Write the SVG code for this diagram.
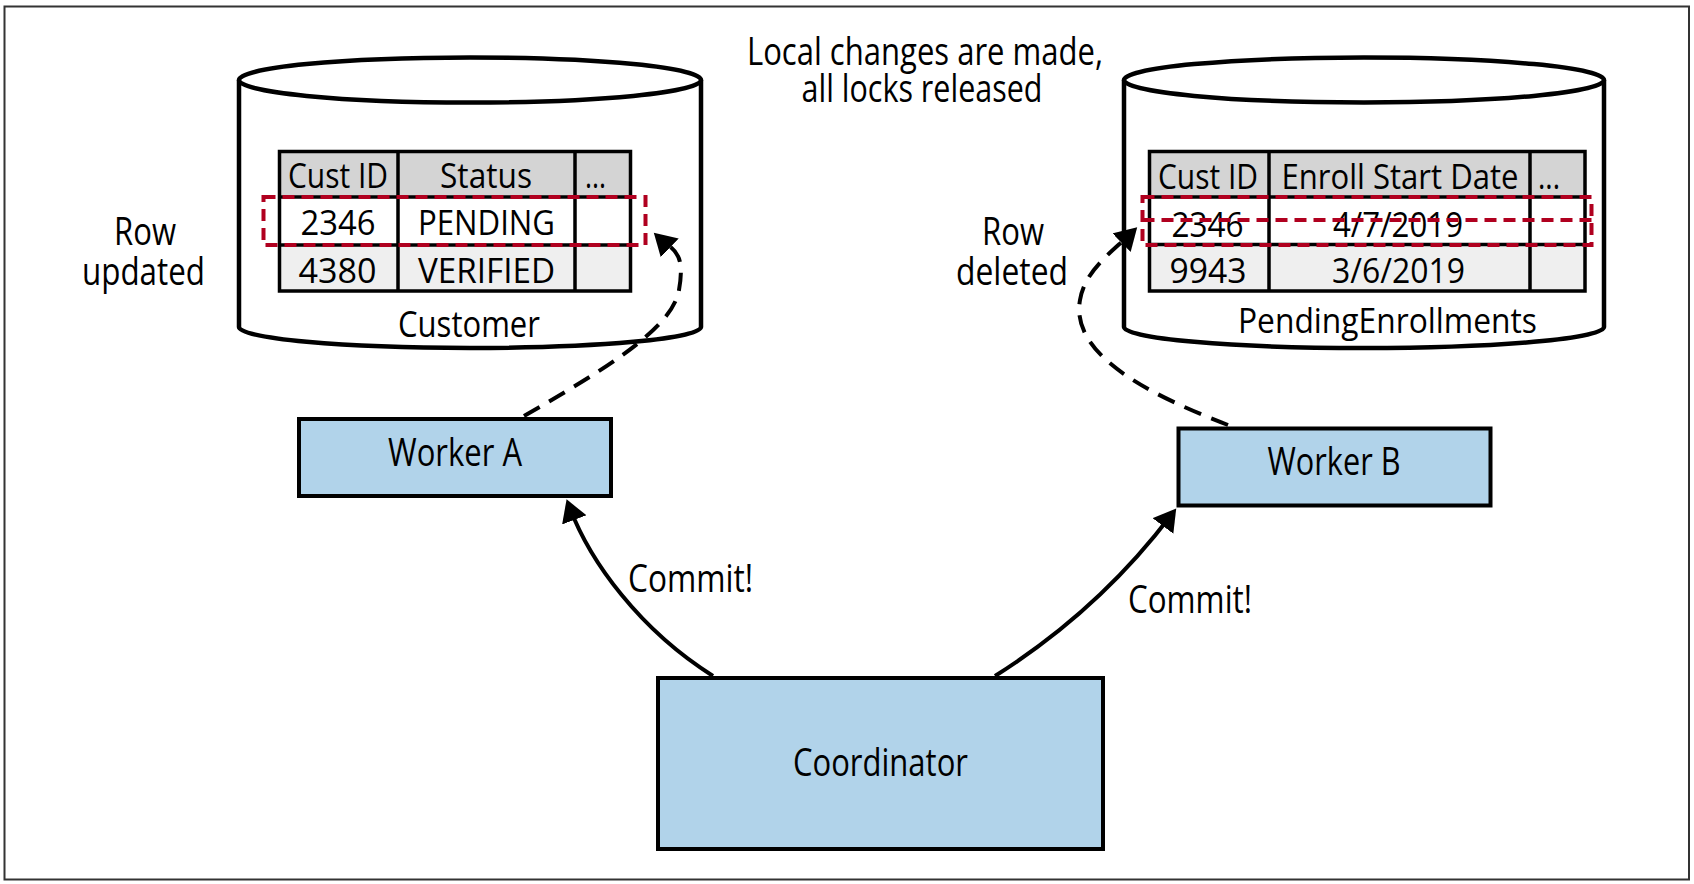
<svg xmlns="http://www.w3.org/2000/svg" width="1694" height="884" viewBox="0 0 1694 884">
<style>
text{font-family:"Open Sans","Liberation Sans",sans-serif;fill:#000;font-weight:500;}
.t39{font-size:39px;}
.t37{font-size:37px;}
.t35{font-size:35px;}
.cyl{fill:#fff;stroke:#000;stroke-width:4.5;}
.box{fill:#b1d3ea;stroke:#000;stroke-width:4;}
.grid{stroke:#000;stroke-width:3.5;fill:none;}
.red{fill:none;stroke:#b0001f;stroke-width:4;stroke-dasharray:12 7;}
.solid{fill:none;stroke:#000;stroke-width:4;}
.dash{fill:none;stroke:#000;stroke-width:4;stroke-dasharray:18 11;}
</style>
<defs>
<marker id="ah" markerUnits="userSpaceOnUse" markerWidth="26" markerHeight="28" refX="14" refY="13" orient="auto">
<path d="M0,0 L22,13 L0,26 z" fill="#000"/>
</marker>
</defs>
<rect x="4.5" y="6.5" width="1684.5" height="873" fill="#fff" stroke="#333" stroke-width="2"/>

<g id="note">
<text class="t39" x="925" y="65" text-anchor="middle" textLength="356" lengthAdjust="spacingAndGlyphs">Local changes are made,</text>
<text class="t39" x="922" y="102" text-anchor="middle" textLength="241" lengthAdjust="spacingAndGlyphs">all locks released</text>
</g>

<g id="customer-db">
<path class="cyl" d="M239,80 L239,327 A231,21 0 0 0 701,327 L701,80"/>
<ellipse class="cyl" cx="470" cy="80" rx="231" ry="22.5"/>
<rect x="279.5" y="151.5" width="351" height="45.5" fill="#d4d4d4"/>
<rect x="279.5" y="197" width="351" height="48" fill="#fff"/>
<rect x="279.5" y="245" width="351" height="46" fill="#efefef"/>
<rect class="grid" x="279.5" y="151.5" width="351" height="139.5"/>
<path class="grid" d="M279.5,197 H630.5 M279.5,245 H630.5 M398,151.5 V291 M575,151.5 V291"/>
<text class="t35" x="338" y="188" text-anchor="middle" textLength="100" lengthAdjust="spacingAndGlyphs">Cust ID</text>
<text class="t35" x="486" y="188" text-anchor="middle" textLength="92" lengthAdjust="spacingAndGlyphs">Status</text>
<text class="t35" x="585" y="188" textLength="21" lengthAdjust="spacingAndGlyphs">...</text>
<text class="t35" x="338" y="235" text-anchor="middle" textLength="75" lengthAdjust="spacingAndGlyphs">2346</text>
<text class="t35" x="486.5" y="235" text-anchor="middle" textLength="137" lengthAdjust="spacingAndGlyphs">PENDING</text>
<text class="t35" x="337.5" y="283" text-anchor="middle" textLength="78" lengthAdjust="spacingAndGlyphs">4380</text>
<text class="t35" x="486.5" y="283" text-anchor="middle" textLength="137" lengthAdjust="spacingAndGlyphs">VERIFIED</text>
<rect class="red" x="263.5" y="197" width="382" height="48"/>
<text class="t37" x="469" y="337" text-anchor="middle" textLength="142" lengthAdjust="spacingAndGlyphs">Customer</text>
</g>

<g id="pending-db">
<path class="cyl" d="M1124,80 L1124,327 A240,21 0 0 0 1604,327 L1604,80"/>
<ellipse class="cyl" cx="1364" cy="80" rx="240" ry="22.5"/>
<rect x="1149.5" y="151.5" width="435.5" height="45.5" fill="#d4d4d4"/>
<rect x="1149.5" y="197" width="435.5" height="47.5" fill="#fff"/>
<rect x="1149.5" y="244.5" width="435.5" height="46.5" fill="#efefef"/>
<rect class="grid" x="1149.5" y="151.5" width="435.5" height="139.5"/>
<path class="grid" d="M1149.5,197 H1585 M1149.5,244.5 H1585 M1269,151.5 V291 M1530,151.5 V291"/>
<text class="t35" x="1208" y="189" text-anchor="middle" textLength="100" lengthAdjust="spacingAndGlyphs">Cust ID</text>
<text class="t35" x="1400" y="189" text-anchor="middle" textLength="237" lengthAdjust="spacingAndGlyphs">Enroll Start Date</text>
<text class="t35" x="1538" y="189" textLength="22" lengthAdjust="spacingAndGlyphs">...</text>
<text class="t35" x="1207.5" y="236.5" text-anchor="middle" textLength="72" lengthAdjust="spacingAndGlyphs">2346</text>
<text class="t35" x="1398" y="236.5" text-anchor="middle" textLength="130" lengthAdjust="spacingAndGlyphs">4/7/2019</text>
<text class="t35" x="1208" y="283" text-anchor="middle" textLength="77" lengthAdjust="spacingAndGlyphs">9943</text>
<text class="t35" x="1398.5" y="283" text-anchor="middle" textLength="133" lengthAdjust="spacingAndGlyphs">3/6/2019</text>
<rect class="red" x="1142.5" y="197" width="449" height="48"/>
<line class="red" x1="1142.5" y1="220" x2="1591.5" y2="220"/>
<text class="t35" x="1387.5" y="333" text-anchor="middle" textLength="299" lengthAdjust="spacingAndGlyphs">PendingEnrollments</text>
</g>

<g id="label-row-updated">
<text class="t39" x="145" y="245" text-anchor="middle" textLength="62" lengthAdjust="spacingAndGlyphs">Row</text>
<text class="t39" x="143.5" y="285" text-anchor="middle" textLength="123" lengthAdjust="spacingAndGlyphs">updated</text>
</g>
<g id="label-row-deleted">
<text class="t39" x="1013" y="245" text-anchor="middle" textLength="62" lengthAdjust="spacingAndGlyphs">Row</text>
<text class="t39" x="1012" y="285" text-anchor="middle" textLength="112" lengthAdjust="spacingAndGlyphs">deleted</text>
</g>

<g id="worker-a">
<rect class="box" x="299" y="419" width="312" height="77"/>
<text class="t39" x="455" y="466" text-anchor="middle" textLength="134" lengthAdjust="spacingAndGlyphs">Worker A</text>
</g>
<g id="worker-b">
<rect class="box" x="1178.5" y="428.5" width="312" height="77"/>
<text class="t39" x="1334" y="475" text-anchor="middle" textLength="133" lengthAdjust="spacingAndGlyphs">Worker B</text>
</g>
<g id="coordinator">
<rect class="box" x="658" y="678" width="445" height="171"/>
<text class="t39" x="880.5" y="776" text-anchor="middle" textLength="175" lengthAdjust="spacingAndGlyphs">Coordinator</text>
</g>

<g id="connectors">
<path class="solid" d="M713,676 C640,630 590,562 569.4,506.8" marker-end="url(#ah)"/>
<path class="solid" d="M995,676 C1060,635 1122,580 1171.4,514.8" marker-end="url(#ah)"/>
<path class="dash" d="M524,416 C600,372 672,330 679,290 S672,250 659.6,238.2" marker-end="url(#ah)"/>
<path class="dash" d="M1228,425 C1150,395 1070,355 1080,300 C1085,270 1112,252 1131.5,232.8" marker-end="url(#ah)"/>
<text class="t39" x="628" y="592" textLength="125" lengthAdjust="spacingAndGlyphs">Commit!</text>
<text class="t39" x="1128" y="613" textLength="124" lengthAdjust="spacingAndGlyphs">Commit!</text>
</g>
</svg>
